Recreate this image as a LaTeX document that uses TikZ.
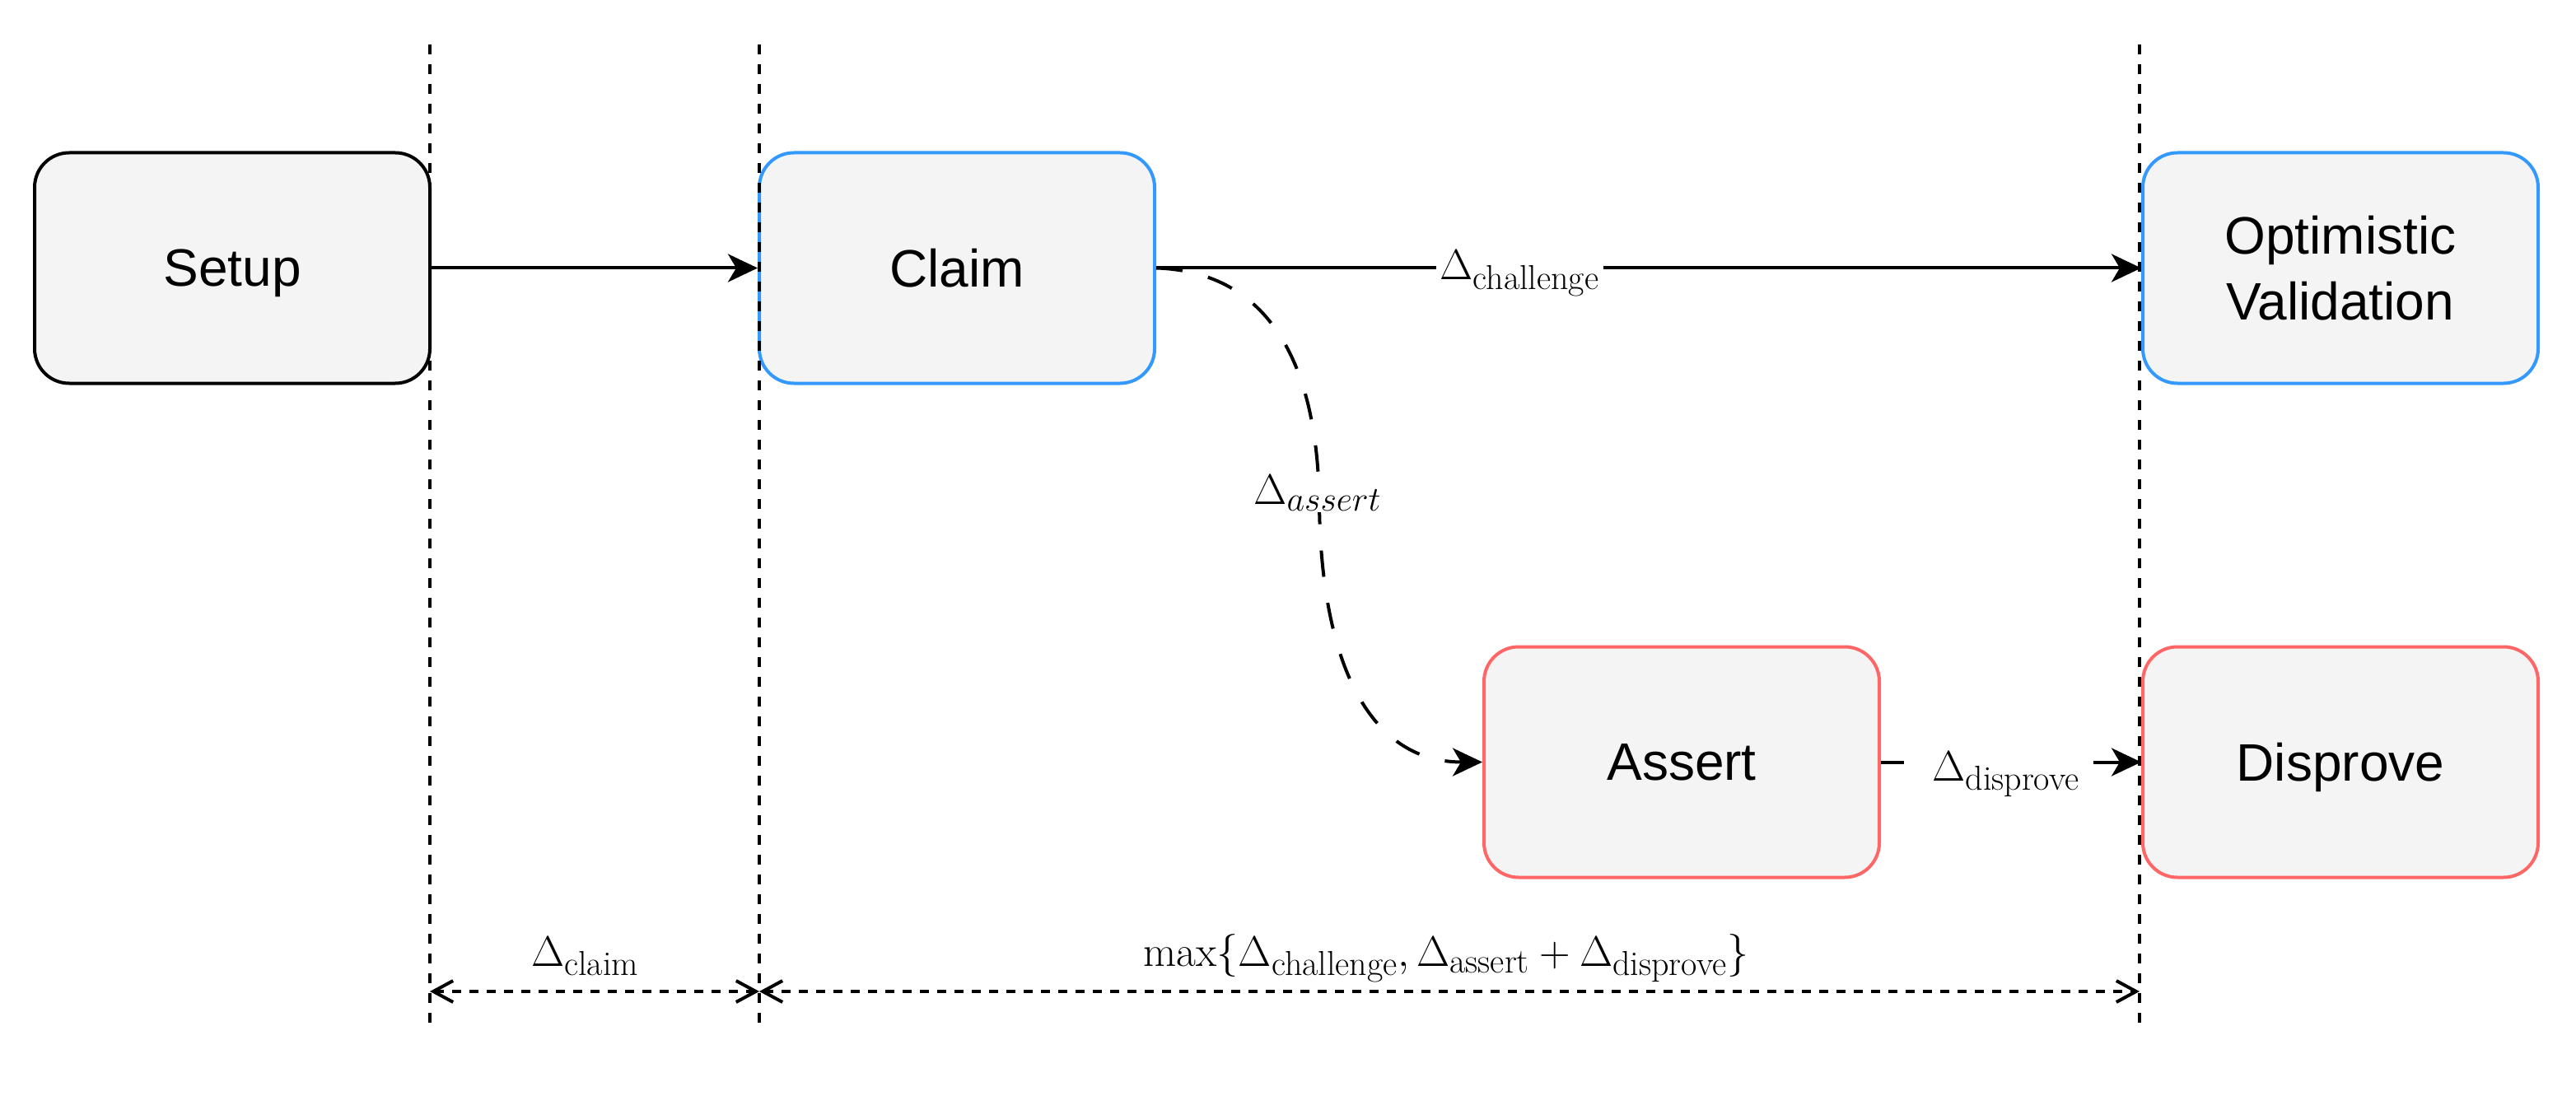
\documentclass[tikz,border=0pt]{standalone}
\usepackage{fix-cm}
\usepackage{amsmath}
\usepackage{fontspec}
\newfontfamily\boxfont{Liberation Sans}
\DeclareMathSizes{26}{26}{21}{16}
\usetikzlibrary{arrows.meta}
\definecolor{boxfill}{HTML}{F4F4F4}
\definecolor{bblue}{HTML}{3399FF}
\definecolor{bred}{HTML}{FF6666}
\tikzset{
  stage/.style={draw, line width=2pt, fill=boxfill, rounded corners=21pt,
    minimum width=240pt, minimum height=140pt, inner sep=0pt,
    font=\boxfont\fontsize{32}{40}\selectfont, align=center},
  single/.style={text depth=0pt},
  flow/.style={line width=2pt, -{Stealth[length=18pt,width=17pt,inset=5pt]}},
  guide/.style={line width=1.8pt, dash pattern=on 6pt off 6pt},
  span/.style={line width=2pt, dash pattern=on 5.5pt off 5pt,
    {Straight Barb[length=12pt,width=13pt]}-{Straight Barb[length=12pt,width=13pt]}},
  lbl/.style={font=\fontsize{26}{30}\selectfont, inner sep=0pt},
}
\begin{document}
\begin{tikzpicture}[x=1pt,y=-1pt]
\useasboundingbox (0,0) rectangle (1564,674);
% boxes
\node[stage, single] (setup) at (141,162.75) {Setup};
\node[stage, single, draw=bblue] (claim) at (581,162.75) {Claim};
\node[stage, draw=bblue] (opt) at (1421,162.75) {Optimistic\\Validation};
\node[stage, single, draw=bred] (assert) at (1021,462.75) {Assert};
\node[stage, single, draw=bred] (disprove) at (1421,462.75) {Disprove};
% guide lines
\coordinate (g1t) at (261,27);  \coordinate (g1b) at (261,621);
\coordinate (g2t) at (461,27);  \coordinate (g2b) at (461,621);
\coordinate (g3t) at (1299,27); \coordinate (g3b) at (1299,621);
\draw[guide] (g1t) -- (g1b);
\draw[guide] (g2t) -- (g2b);
\draw[guide] (g3t) -- (g3b);
% connectors
\draw[flow] (setup) -- (claim);
\draw[flow] (claim) -- (opt);
\draw[flow] (assert) -- (disprove);
\draw[flow, dash pattern=on 16pt off 16pt] (claim.east)
  .. controls (770,165) and (800,220) .. (801,306)
  .. controls (802,400) and (830,462.75) .. (assert.west);
% labels on connectors
\node[lbl, fill=white, inner xsep=2.5pt, inner ysep=1pt, anchor=base] (lchal) at (922.7,170) {$\Delta_\text{challenge}$};
\node[lbl, fill=white, inner sep=0.5pt, anchor=base] (lass) at (800,306.3) {$\Delta_{assert}$};
\node[lbl, fill=white, inner ysep=1pt, anchor=base west] (ldis) at (1156,474) {\kern17pt$\Delta_\text{disprove}$\kern8.5pt};
% bottom spans
\coordinate (s1) at (261,602);
\coordinate (s2) at (461,602);
\coordinate (s3) at (1299,602);
\draw[span] (s1) -- (s2);
\draw[span] (s2) -- (s3);
\node[lbl, anchor=base] (lclaim) at (355.3,586.7) {$\Delta_\text{claim}$};
\node[lbl, anchor=base] (lmax) at (878,586.7) {$\max\{\Delta_\text{challenge}, \Delta_\text{assert} + \Delta_\text{disprove}\}$};
\end{tikzpicture}
\end{document}
